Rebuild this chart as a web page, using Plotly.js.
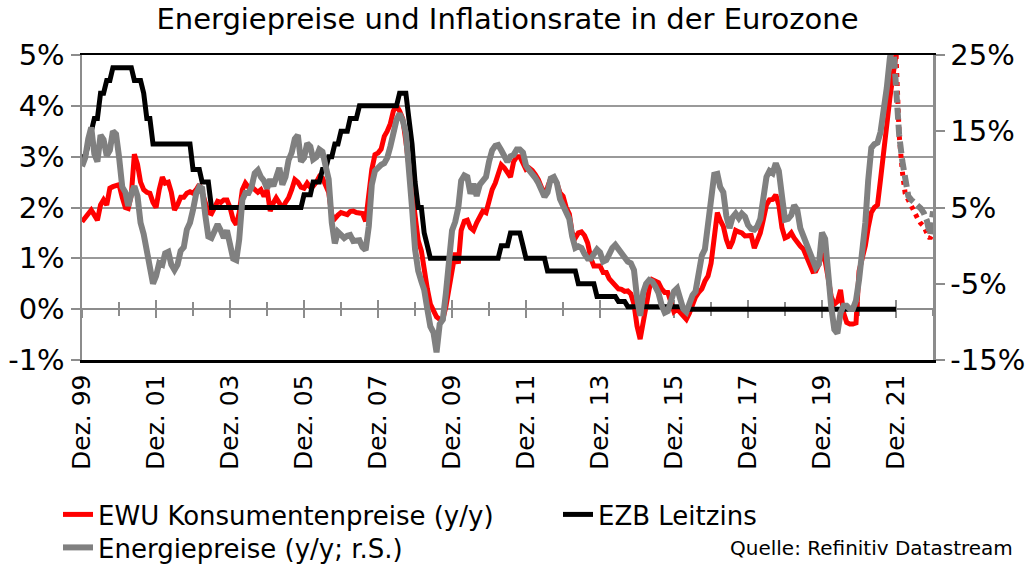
<!DOCTYPE html>
<html>
<head>
<meta charset="utf-8">
<script src="https://cdn.plot.ly/plotly-3.0.1.min.js"></script>
<style>
html,body{margin:0;padding:0;background:#ffffff;}
#chart{width:1027px;height:567px;}
</style>
</head>
<body>
<div id="chart"></div>
<script>
// ---- data (monthly, first value = Dez. 1999) ----
const startYear = 1999;
const startMonth = 12;

const cpi = [
 1.72,1.8,1.88,1.95,1.85,1.75,2.05,2.15,2.05,2.38,2.41,2.42,2.45,
 2.2,2.0,1.98,2.25,3.05,2.85,2.5,2.35,2.3,2.28,2.1,2.0,
 2.35,2.6,2.48,2.5,2.3,1.95,2.05,2.2,2.2,2.28,2.31,2.28,
 2.35,2.45,2.3,2.1,1.9,1.88,1.98,2.12,2.1,2.15,2.15,2.0,
 1.76,1.66,1.9,2.35,2.48,2.4,2.41,2.35,2.3,2.35,2.22,2.35,
 1.93,2.09,2.19,2.09,1.98,2.1,2.19,2.35,2.55,2.5,2.4,2.38,
 2.48,2.4,2.42,2.5,2.61,2.58,2.45,2.3,1.85,1.78,1.85,1.9,
 1.88,1.86,1.92,1.93,1.9,1.9,1.88,1.73,2.22,2.75,3.04,3.07,
 3.15,3.4,3.5,3.65,3.9,4.0,3.9,3.75,3.3,2.85,2.3,1.83,
 1.35,1.15,0.75,0.4,0.1,-0.05,-0.15,-0.2,-0.2,0.05,0.46,0.8,
 1.11,0.9,1.55,1.73,1.75,1.6,1.55,1.7,1.85,1.93,1.9,2.16,
 2.35,2.48,2.68,2.84,2.78,2.7,2.6,2.9,3.0,3.0,2.85,2.75,
 2.78,2.73,2.65,2.55,2.4,2.25,2.4,2.57,2.57,2.48,2.29,2.22,
 2.0,1.87,1.5,1.4,1.5,1.52,1.45,1.3,1.0,0.85,0.85,0.85,
 0.72,0.72,0.6,0.54,0.45,0.4,0.39,0.35,0.36,0.3,0.1,-0.33,
 -0.59,-0.2,0.1,0.4,0.58,0.55,0.52,0.4,0.33,0.33,0.1,-0.05,
 0.0,-0.07,-0.13,-0.2,-0.08,0.1,0.24,0.33,0.4,0.55,0.65,0.9,
 1.45,1.9,1.75,1.63,1.37,1.2,1.33,1.55,1.52,1.5,1.44,1.44,
 1.45,1.2,1.35,1.5,1.76,2.05,2.15,2.16,2.25,2.05,1.6,1.4,
 1.43,1.5,1.4,1.3,1.24,1.18,1.05,0.88,0.74,0.75,0.88,1.1,
 0.95,0.6,0.25,0.1,0.15,0.38,-0.07,-0.26,-0.29,-0.29,-0.27,0.75,
 1.0,1.25,1.6,1.9,2.0,2.05,2.55,3.15,3.75,4.15,4.6,5.0
];
// forecast, Dez. 2021 .. Dez. 2022
const cpiForecast = [5.0,3.43,2.71,2.28,2.15,2.02,1.89,1.79,1.69,1.63,1.5,1.39,1.5];

const ecbRate = [
 3.0,
 3.0,3.25,3.5,3.75,3.75,4.25,4.25,4.5,4.5,4.75,4.75,4.75,
 4.75,4.75,4.75,4.75,4.5,4.5,4.5,4.25,3.75,3.75,3.25,3.25,
 3.25,3.25,3.25,3.25,3.25,3.25,3.25,3.25,3.25,3.25,3.25,2.75,
 2.75,2.75,2.5,2.5,2.5,2.0,2.0,2.0,2.0,2.0,2.0,2.0,
 2.0,2.0,2.0,2.0,2.0,2.0,2.0,2.0,2.0,2.0,2.0,2.0,
 2.0,2.0,2.0,2.0,2.0,2.0,2.0,2.0,2.0,2.0,2.0,2.25,
 2.25,2.25,2.5,2.5,2.5,2.75,2.75,3.0,3.0,3.25,3.25,3.5,
 3.5,3.5,3.75,3.75,3.75,4.0,4.0,4.0,4.0,4.0,4.0,4.0,
 4.0,4.0,4.0,4.0,4.0,4.0,4.25,4.25,4.25,3.75,3.25,2.5,
 2.0,2.0,1.5,1.25,1.0,1.0,1.0,1.0,1.0,1.0,1.0,1.0,
 1.0,1.0,1.0,1.0,1.0,1.0,1.0,1.0,1.0,1.0,1.0,1.0,
 1.0,1.0,1.0,1.25,1.25,1.25,1.5,1.5,1.5,1.5,1.25,1.0,
 1.0,1.0,1.0,1.0,1.0,1.0,0.75,0.75,0.75,0.75,0.75,0.75,
 0.75,0.75,0.75,0.75,0.5,0.5,0.5,0.5,0.5,0.5,0.25,0.25,
 0.25,0.25,0.25,0.25,0.25,0.15,0.15,0.15,0.05,0.05,0.05,0.05,
 0.05,0.05,0.05,0.05,0.05,0.05,0.05,0.05,0.05,0.05,0.05,0.05,
 0.05,0.05,0,0,0,0,0,0,0,0,0,0,
 0,0,0,0,0,0,0,0,0,0,0,0,
 0,0,0,0,0,0,0,0,0,0,0,0,
 0,0,0,0,0,0,0,0,0,0,0,0,
 0,0,0,0,0,0,0,0,0,0,0,0,
 0,0,0,0,0,0,0,0,0,0,0,0
];

const energy = [
 10.4,11.5,14.0,15.5,12.0,11.0,14.5,13.9,11.8,12.5,15.0,14.6,11.6,
 7.7,7.0,5.2,6.8,7.8,6.5,3.0,1.5,-0.5,-3.4,-5.0,-4.0,
 -2.3,-2.5,-1.0,-0.8,-2.5,-3.2,-2.5,-0.7,-0.2,2.1,3.0,4.7,
 6.8,7.7,7.5,4.0,1.2,1.0,1.7,2.8,2.0,1.0,2.0,0.3,
 -1.7,-1.9,0.8,6.0,6.9,6.9,7.7,9.5,9.9,9.0,8.5,7.5,
 8.7,7.8,9.0,10.2,8.0,9.0,11.2,12.2,14.0,14.5,11.0,11.5,
 13.4,13.0,11.3,11.6,12.6,12.3,10.5,8.7,3.0,0.3,1.8,1.5,
 1.0,1.3,1.4,0.6,0.6,0.7,-0.2,-0.6,2.5,8.0,9.8,10.3,
 10.6,10.8,11.5,13.0,15.0,16.5,17.3,16.4,14.8,10.5,5.0,-0.5,
 -3.3,-4.7,-5.8,-8.3,-10.6,-11.4,-14.0,-10.3,-9.7,-6.3,-1.5,2.0,
 3.1,5.0,8.5,9.2,9.0,6.8,8.1,6.5,8.0,8.6,9.0,11.0,
 12.5,13.1,13.2,12.5,11.6,11.0,11.7,11.9,12.6,12.6,12.2,10.5,
 9.9,9.5,8.9,8.2,7.3,6.4,7.0,8.8,9.0,8.2,6.1,5.3,
 4.5,3.5,1.2,-0.3,-0.1,-0.3,-1.1,-1.7,-1.7,-1.2,-0.5,-0.9,
 -2.1,-1.9,-1.1,-0.3,0.1,-0.5,-0.9,-1.6,-2.1,-2.3,-3.2,-6.8,
 -9.2,-6.1,-5.0,-4.5,-4.7,-5.4,-6.2,-7.8,-8.8,-8.6,-7.4,-6.0,
 -5.6,-6.8,-8.3,-8.7,-7.4,-6.5,-6.0,-3.6,-1.3,-0.5,2.8,7.0,
 9.3,9.4,7.7,7.0,3.9,2.3,3.7,4.2,3.6,4.2,3.8,2.7,
 2.2,2.1,2.5,3.5,6.5,9.0,9.8,9.5,10.8,9.8,6.5,3.4,
 3.5,4.0,5.3,4.7,2.3,1.2,0.4,-0.8,-2.0,-2.9,-2.4,1.7,
 0.9,-4.4,-8.0,-11.0,-11.5,-8.8,-7.9,-7.9,-8.3,-8.3,-7.2,-4.5,
 -1.0,3.0,8.5,12.8,13.3,13.5,14.9,17.4,20.7,24.6,27.0
];
// forecast, Nov. 2021 .. Dez. 2022
const energyForecast = [27.0,20.0,14.5,11.1,8.5,6.5,6.0,5.6,5.4,4.9,4.3,3.3,1.4,4.5];

const seriesNames = ["EWU Konsumentenpreise (y/y)", "EZB Leitzins", "Energiepreise (y/y; r.S.)"];
const majorTickDates = ["1999-12-01","2001-12-01","2003-12-01","2005-12-01","2007-12-01","2009-12-01",
                        "2011-12-01","2013-12-01","2015-12-01","2017-12-01","2019-12-01","2021-12-01"];
const majorTickLabels = ["Dez. 99","Dez. 01","Dez. 03","Dez. 05","Dez. 07","Dez. 09",
                         "Dez. 11","Dez. 13","Dez. 15","Dez. 17","Dez. 19","Dez. 21"];
const minorTickDates = ["2000-12-01","2002-12-01","2004-12-01","2006-12-01","2008-12-01","2010-12-01",
                        "2012-12-01","2014-12-01","2016-12-01","2018-12-01","2020-12-01","2022-12-01"];
const leftTickVals = [-1,0,1,2,3,4,5];
const leftTickText = ["-1%","0%","1%","2%","3%","4%","5%"];
const rightTickVals = [-15,-5,5,15,25];
const rightTickText = ["-15%","-5%","5%","15%","25%"];
const titleText = "Energiepreise und Inflationsrate in der Eurozone";
const sourceText = "Quelle: Refinitiv Datastream";

// ---- month axis ----
function monthDate(i){
  const t = startYear*12 + (startMonth-1) + i;
  const y = Math.floor(t/12), m = t%12 + 1;
  return y + "-" + String(m).padStart(2,"0") + "-01";
}
const totalMonths = energy.length + energyForecast.length - 1;
const months = [];
for (let i = 0; i < totalMonths; i++) months.push(monthDate(i));
const xRange = [months[0], months[months.length-1]];

const FONT = "DejaVu Sans";
const GRAY = "#808080";
const AXGRAY = "#8c8c8c";

const traces = [
  {x: months.slice(0, cpi.length), y: cpi, name: seriesNames[0], type: "scatter", mode: "lines",
   line: {color: "#ff0000", width: 5}, hoverinfo: "skip", legend: "legend"},
  {x: months.slice(cpi.length-1, cpi.length-1+cpiForecast.length), y: cpiForecast, showlegend: false,
   type: "scatter", mode: "lines", line: {color: "#ff0000", width: 5, dash: "4px,5px"}, hoverinfo: "skip"},
  {x: months.slice(0, ecbRate.length), y: ecbRate, name: seriesNames[1], type: "scatter", mode: "lines",
   line: {color: "#000000", width: 5}, hoverinfo: "skip", legend: "legend2"},
  {x: months.slice(0, energy.length), y: energy, name: seriesNames[2], type: "scatter", mode: "lines",
   yaxis: "y2", line: {color: GRAY, width: 6}, hoverinfo: "skip", legend: "legend3"},
  {x: months.slice(energy.length-1, energy.length-1+energyForecast.length), y: energyForecast, showlegend: false,
   yaxis: "y2", type: "scatter", mode: "lines", line: {color: GRAY, width: 6, dash: "12px,5px"}, hoverinfo: "skip"},
  {x: [], y: [], xaxis: "x2", yaxis: "y", showlegend: false, hoverinfo: "skip", type: "scatter"},
  {x: [], y: [], xaxis: "x3", yaxis: "y", showlegend: false, hoverinfo: "skip", type: "scatter"}
];

const zeroAxis = (dir) => ({
  type: "date", range: xRange, overlaying: "x", anchor: "free", position: 1/6,
  showline: true, linecolor: AXGRAY, linewidth: 2, layer: "below traces",
  showgrid: false, zeroline: false, showticklabels: false,
  tickmode: "array", tickvals: majorTickDates, ticks: dir, ticklen: 8, tickwidth: 2, tickcolor: AXGRAY,
  minor: {tickmode: "array", tickvals: minorTickDates, ticks: dir, ticklen: 6, tickwidth: 2, tickcolor: AXGRAY, showgrid: false},
  fixedrange: true
});

const legendBase = (xPx, topPx) => ({
  orientation: "h", xref: "container", yref: "container", x: xPx/1027, y: 1 - topPx/567,
  xanchor: "left", yanchor: "top", font: {family: FONT, size: 26, color: "#000000"},
  bgcolor: "rgba(0,0,0,0)", itemwidth: 30
});

const layout = {
  width: 1027, height: 567,
  margin: {l: 82, r: 94, t: 55, b: 207, pad: 0},
  paper_bgcolor: "#ffffff", plot_bgcolor: "#ffffff",
  font: {family: FONT, color: "#000000"},
  title: {text: titleText, font: {family: FONT, size: 29, color: "#000000"},
          x: 0.5, xref: "paper", xanchor: "center", y: 1 - 19/567, yref: "container", yanchor: "middle"},
  showlegend: true,
  legend: legendBase(58, 491),
  legend2: legendBase(558, 491),
  legend3: legendBase(58, 524),
  xaxis: {type: "date", range: xRange, tickmode: "array", tickvals: majorTickDates, ticktext: majorTickLabels,
          tickangle: -90, ticks: "", showgrid: false, zeroline: false,
          showline: true, linecolor: "#000000", linewidth: 2.5, mirror: true,
          tickfont: {family: FONT, size: 25, color: "#000000"}, ticklabelstandoff: 2, fixedrange: true},
  xaxis2: zeroAxis("outside"),
  xaxis3: zeroAxis("inside"),
  yaxis: {range: [-1, 5], tickmode: "array", tickvals: leftTickVals, ticktext: leftTickText,
          showgrid: true, gridcolor: "#999999", gridwidth: 2, zeroline: false,
          showline: true, linecolor: AXGRAY, linewidth: 2.5,
          ticks: "outside", ticklen: 9, tickwidth: 2, tickcolor: AXGRAY,
          tickfont: {family: FONT, size: 29, color: "#000000"}, fixedrange: true},
  yaxis2: {range: [-15, 25], overlaying: "y", side: "right", tickmode: "array", tickvals: rightTickVals, ticktext: rightTickText,
           showgrid: false, zeroline: false, showline: true, linecolor: AXGRAY, linewidth: 2.5,
           ticks: "outside", ticklen: 9, tickwidth: 2, tickcolor: AXGRAY,
           tickfont: {family: FONT, size: 29, color: "#000000"}, fixedrange: true},
  annotations: [
    {text: sourceText, xref: "paper", yref: "paper", x: (1015-82)/851, y: (360-548)/305,
     xanchor: "right", yanchor: "middle", showarrow: false, font: {family: FONT, size: 20, color: "#000000"}}
  ]
};

Plotly.newPlot("chart", traces, layout, {staticPlot: true, displayModeBar: false});
</script>
</body>
</html>
